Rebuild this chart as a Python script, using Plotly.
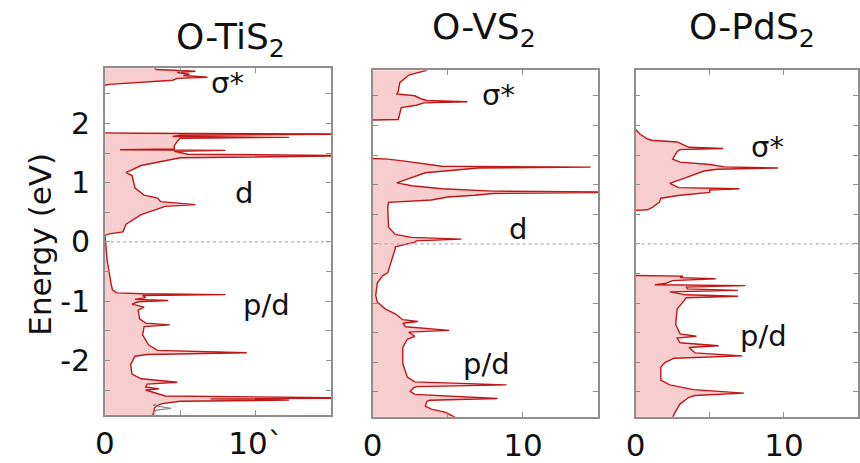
import plotly.graph_objects as go

# ---- density of states, energy (eV) vs DOS (states/eV), top of window downward ----
ti_energy = [2.94, 2.91, 2.88, 2.86, 2.83, 2.81, 2.78, 2.76, 2.73, 2.70, 2.66, 2.645,
             1.84, 1.835, 1.82, 1.80, 1.78, 1.765, 1.75, 1.70, 1.62, 1.57, 1.555, 1.545,
             1.53, 1.48, 1.455, 1.43, 1.42, 1.29, 1.17, 1.12, 1.01, 0.91, 0.79, 0.74, 0.68,
             0.63, 0.60, 0.46, 0.30, 0.17, 0.135, 0.11,
             0.0, -0.31, -0.69, -0.81, -0.86, -0.875, -0.89, -0.905, -0.94, -0.97, -0.99,
             -1.01, -1.05, -1.10, -1.15, -1.30, -1.37, -1.40, -1.43, -1.57, -1.74, -1.83,
             -1.87, -1.90, -1.93, -2.07, -2.23, -2.31, -2.37, -2.40, -2.45, -2.48, -2.50,
             -2.56, -2.60, -2.635, -2.65, -2.67, -2.69, -2.73, -2.76, -2.80, -2.95]
ti_dos = [3.3, 3.4, 6.0, 4.8, 5.6, 5.2, 6.8, 4.8, 4.5, 2.5, 0.3, 0.0,
          0.0, 2.0, 17.0, 5.0, 4.5, 12.2, 5.0, 4.8, 4.6, 4.6, 1.0, 8.0,
          4.6, 5.5, 17.0, 5.0, 5.0, 2.4, 1.4, 1.8, 1.9, 2.0, 2.6, 3.5, 3.7,
          6.0, 4.0, 2.4, 1.4, 1.2, 0.3, 0.0,
          0.05, 0.15, 0.4, 0.5, 0.8, 2.5, 8.0, 2.5, 2.7, 2.0, 4.2,
          2.2, 1.8, 2.6, 2.2, 2.3, 2.7, 4.3, 2.6, 2.5, 2.9, 3.5,
          9.4, 2.8, 2.0, 1.7, 1.8, 2.4, 4.8, 2.8, 2.7, 3.6, 2.7,
          3.5, 4.0, 17.0, 7.0, 12.2, 5.0, 3.8, 3.5, 3.3, 3.2]
ti_d_energy = [-2.74, -2.76, -2.79, -2.81, -2.84, -2.88, -2.95]
ti_d_dos = [3.4, 3.2, 3.9, 4.4, 3.4, 3.2, 3.1]

v_energy = [2.93, 2.85, 2.72, 2.57, 2.53, 2.50, 2.45, 2.42, 2.40, 2.38, 2.34, 2.30,
            2.10, 2.09,
            1.44, 1.43, 1.40, 1.36, 1.31, 1.295, 1.28, 1.26, 1.20, 1.03, 0.98, 0.93,
            0.89, 0.87, 0.85, 0.82, 0.79, 0.74, 0.70, 0.61, 0.28, 0.16, 0.11, 0.08,
            0.05, 0.03, -0.05, -0.08, -0.33, -0.49, -0.54, -0.66, -0.87, -0.98, -1.10,
            -1.18, -1.28, -1.31, -1.34, -1.40, -1.46, -1.49, -1.56, -1.61, -1.75, -2.02,
            -2.25, -2.33, -2.38, -2.41, -2.43, -2.49, -2.54, -2.61, -2.64, -2.66, -2.74,
            -2.79, -2.84, -2.93]
v_dos = [3.6, 2.4, 1.8, 1.7, 1.6, 2.8, 3.2, 3.6, 6.3, 3.4, 2.9, 1.9,
         1.7, 0.0,
         0.0, 1.0, 2.0, 3.3, 4.6, 14.5, 7.0, 6.1, 3.5, 1.6, 2.6, 4.6,
         8.0, 17.0, 8.0, 6.8, 5.0, 3.9, 1.05, 1.0, 1.05, 1.5, 2.6, 5.9,
         2.9, 2.8, 1.5, 1.5, 1.2, 1.0, 0.65, 0.3, 0.2, 0.3, 0.85,
         1.5, 2.0, 3.0, 2.0, 2.2, 5.1, 2.4, 2.8, 2.3, 2.0, 2.0,
         2.3, 2.8, 8.9, 2.9, 2.7, 2.5, 2.8, 8.3, 3.8, 3.6, 3.5,
         3.9, 4.8, 5.5]

pd_energy = [1.93, 1.85, 1.77, 1.75, 1.72, 1.67, 1.63, 1.61, 1.59, 1.56, 1.43, 1.38,
             1.34, 1.30, 1.28, 1.26, 1.23, 1.11, 1.02, 0.95, 0.93, 0.91, 0.87, 0.82,
             0.77, 0.70, 0.61, 0.575, 0.565,
             -0.535, -0.545, -0.57, -0.59, -0.62, -0.67, -0.69, -0.705, -0.73, -0.76,
             -0.785, -0.81, -0.86, -0.885, -0.91, -0.95, -1.10, -1.36, -1.52, -1.56,
             -1.59, -1.67, -1.72, -1.75, -1.84, -1.89, -1.93, -2.00, -2.08, -2.30,
             -2.38, -2.46, -2.52, -2.56, -2.59, -2.70, -2.87, -2.93]
pd_dos = [0.0, 0.3, 0.8, 1.1, 2.8, 3.3, 3.6, 5.9, 3.0, 2.8, 2.5, 3.0,
          5.0, 6.0, 9.6, 5.5, 4.6, 3.3, 2.3, 2.9, 7.0, 5.0, 5.0, 3.0,
          1.7, 1.6, 1.1, 0.8, 0.0,
          0.0, 3.2, 3.0, 5.4, 2.5, 2.0, 1.3, 7.4, 3.4, 3.5,
          6.9, 2.3, 3.4, 6.9, 3.4, 3.3, 2.8, 2.7, 3.0, 4.1,
          2.8, 3.0, 5.6, 3.6, 4.0, 7.2, 2.6, 2.0, 1.7, 1.7,
          2.3, 3.9, 7.3, 4.0, 3.6, 3.0, 2.6, 2.5]

panel_titles = ["O-TiS<sub>2</sub>", "O-VS<sub>2</sub>", "O-PdS<sub>2</sub>"]
x_tick_labels = [["0", "", "10`"], ["0", "", "10"], ["0", "", "10"]]
y_tick_vals = [-2.5, -2.0, -1.5, -1.0, -0.5, 0.0, 0.5, 1.0, 1.5, 2.0, 2.5]
y_tick_text = ["", "-2", "", "-1", "", "0", "", "1", "", "2", ""]
band_labels = [
    (1, "σ*", 8.1, 2.69), (1, "d", 9.2, 0.83), (1, "p/d", 10.7, -1.06),
    (2, "σ*", 8.4, 2.51), (2, "d", 9.7, 0.25), (2, "p/d", 7.6, -2.02),
    (3, "σ*", 8.9, 1.64), (3, "p/d", 8.6, -1.56),
]

W, H = 860, 463
FONT = "DejaVu Sans"
FILL = "rgba(247,198,198,0.88)"
LINE = "#bf1616"
FRAME = "#8f8f8f"

# panel frames in pixels: (left, right, top, bottom)
frames = [(96, 325, 70, 425), (367, 595, 72, 427), (633, 858, 72, 427)]
title_pos = [(223, 40), (480, 30), (751, 30)]


def xid(i):
    return "x" if i == 1 else f"x{i}"


def yid(i):
    return "y" if i == 1 else f"y{i}"


def split_gaps(energy, dos):
    """Break the curve inside band gaps (two consecutive zero-DOS points)."""
    e_out, d_out = [], []
    for k, (e, d) in enumerate(zip(energy, dos)):
        if k > 0 and d == 0 and dos[k - 1] == 0:
            e_out.append(None)
            d_out.append(None)
        e_out.append(e)
        d_out.append(d)
    return e_out, d_out


fig = go.Figure()
series = [(ti_energy, ti_dos), (v_energy, v_dos), (pd_energy, pd_dos)]
for i, (e, d) in enumerate(series, start=1):
    es, ds = split_gaps(e, d)
    fig.add_trace(go.Scatter(
        x=ds, y=es, mode="lines", fill="tozerox", fillcolor=FILL, connectgaps=False,
        line=dict(color=LINE, width=1.4), xaxis=xid(i), yaxis=yid(i),
        showlegend=False, hoverinfo="skip"))
fig.add_trace(go.Scatter(
    x=ti_d_dos, y=ti_d_energy, mode="lines", line=dict(color="#8a8a8a", width=1.2),
    xaxis="x", yaxis="y", showlegend=False, hoverinfo="skip"))

layout = dict(
    width=W, height=H, margin=dict(l=0, r=0, t=0, b=0),
    paper_bgcolor="white", plot_bgcolor="white",
    font=dict(family=FONT, color="#111111"),
)
for i, (l, r, t, b) in enumerate(frames, start=1):
    xname = "xaxis" if i == 1 else f"xaxis{i}"
    yname = "yaxis" if i == 1 else f"yaxis{i}"
    layout[xname] = dict(
        domain=[l / W, r / W], range=[0, 15], anchor=yid(i),
        tickvals=[0, 5, 10], ticktext=x_tick_labels[i - 1],
        ticks="inside", ticklen=5, tickcolor=FRAME, tickwidth=1,
        showline=True, linecolor=FRAME, linewidth=1.6, mirror="ticks",
        showgrid=False, zeroline=False, tickfont=dict(size=31, family=FONT),
        layer="above traces",
    )
    layout[yname] = dict(
        domain=[1 - b / H, 1 - t / H], range=[-2.92, 2.93], anchor=xid(i),
        tickvals=y_tick_vals, ticktext=y_tick_text, showticklabels=(i == 1),
        ticks="inside", ticklen=5, tickcolor=FRAME, tickwidth=1,
        showline=True, linecolor=FRAME, linewidth=1.6, mirror="ticks",
        showgrid=False, zeroline=False, tickfont=dict(size=30, family=FONT),
        ticklabelstandoff=7, layer="above traces",
    )
fig.update_layout(**layout)

# Fermi level
for i in range(1, 4):
    fig.add_shape(type="line", xref=f"{xid(i)} domain", yref=yid(i), x0=0, x1=1, y0=0, y1=0,
                  line=dict(color="#b0b0b0", width=1.2, dash="dot"), layer="above")

annotations = []
for (px, py), txt in zip(title_pos, panel_titles):
    annotations.append(dict(text=txt, x=px / W, y=1 - py / H, xref="paper", yref="paper",
                            showarrow=False, xanchor="center", yanchor="middle",
                            font=dict(size=36, family=FONT, color="#111111")))
for i, txt, xd, yd in band_labels:
    annotations.append(dict(text=txt, x=xd, y=yd, xref=xid(i), yref=yid(i),
                            showarrow=False, xanchor="center", yanchor="middle",
                            font=dict(size=29, family=FONT, color="#111111")))
annotations.append(dict(text="Energy (eV)", x=30 / W, y=1 - 250 / H, xref="paper",
                        yref="paper", showarrow=False, textangle=-90,
                        xanchor="center", yanchor="middle",
                        font=dict(size=31, family=FONT, color="#111111")))
fig.update_layout(annotations=annotations)

fig.write_html("out.html")
